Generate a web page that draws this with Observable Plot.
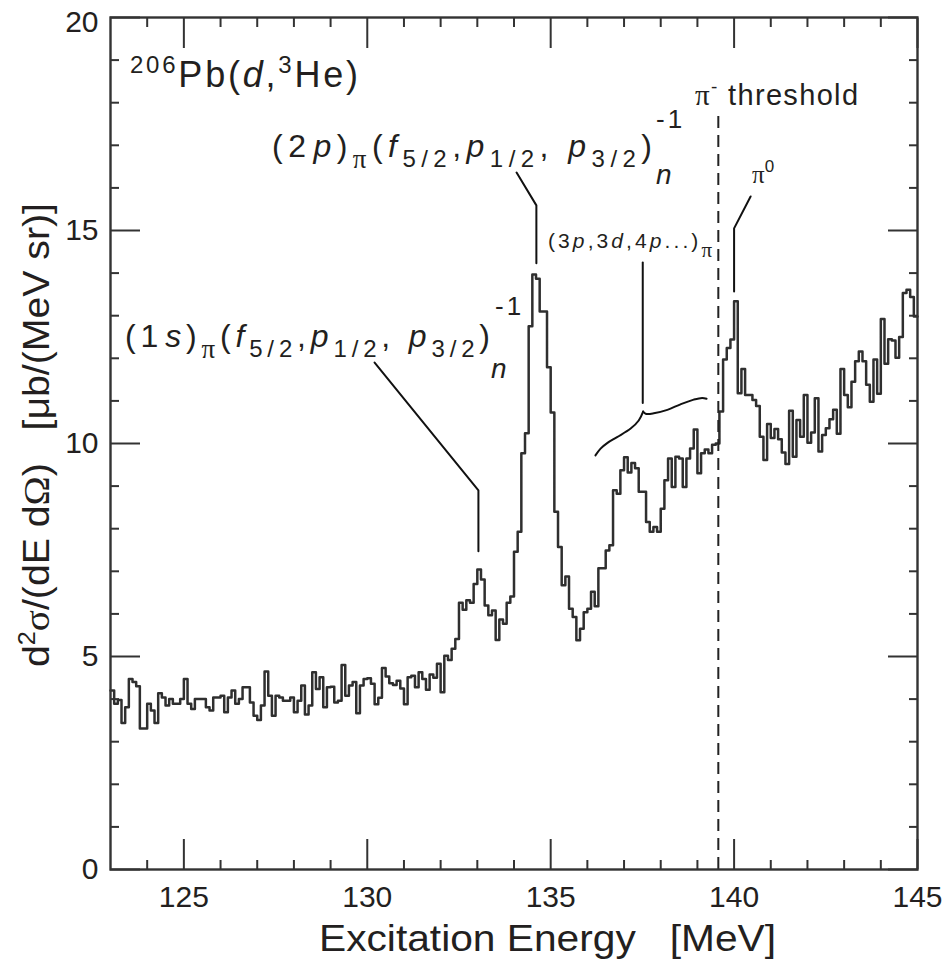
<!DOCTYPE html>
<html>
<head>
<meta charset="utf-8">
<script src="https://cdn.jsdelivr.net/npm/d3@7"></script>
<script src="https://cdn.jsdelivr.net/npm/@observablehq/plot@0.6"></script>
<style>
  html, body { margin: 0; padding: 0; background: #fff; }
  #chart svg { display: block; }
</style>
</head>
<body>
<div id="chart"></div>
<script>
// ---------------- data ----------------
const binStart = 123.0;   // MeV, left edge of first bin
const binWidth = 0.1;     // MeV
const binEnd = 145.0;
// d2sigma/(dE dOmega) per bin [ub/(MeV sr)]
const counts = [
  4.20, 3.89, 3.98, 3.44, 3.81, 4.47, 4.40, 4.30, 3.31, 3.31,
  3.89, 3.73, 3.44, 4.14, 4.04, 3.85, 4.00, 3.89, 3.89, 4.00,
  4.47, 3.89, 3.77, 4.00, 4.00, 4.00, 3.81, 3.73, 4.04, 4.04,
  4.08, 3.69, 4.04, 4.20, 3.89, 4.00, 4.28, 4.28, 3.92, 3.61,
  3.51, 3.85, 4.65, 4.08, 3.61, 4.08, 4.04, 3.96, 3.96, 4.04,
  3.69, 3.96, 4.32, 3.64, 3.85, 4.63, 4.24, 4.51, 3.81, 4.28,
  4.29, 3.92, 3.96, 4.80, 4.08, 4.32, 4.40, 3.67, 4.32, 4.47,
  4.49, 4.36, 3.88, 4.03, 4.73, 4.53, 4.37, 4.33, 4.43, 4.25,
  3.88, 4.51, 4.55, 4.28, 4.63, 4.47, 4.22, 4.58, 4.50, 4.83,
  4.16, 5.02, 4.92, 5.18, 5.41, 6.26, 6.10, 6.32, 6.26, 6.70,
  7.04, 6.81, 6.20, 5.97, 6.08, 5.39, 5.87, 5.77, 6.26, 6.41,
  7.46, 7.93, 9.77, 10.24, 12.75, 13.97, 13.87, 13.10, 13.10, 11.79,
  10.73, 8.40, 7.57, 6.67, 6.88, 6.12, 5.93, 5.38, 5.65, 6.04,
  6.12, 6.52, 6.18, 7.07, 7.07, 7.49, 7.61, 8.90, 8.82, 9.37,
  9.68, 9.32, 9.54, 9.42, 8.87, 8.87, 8.16, 7.93, 8.04, 7.93,
  8.47, 9.14, 9.65, 8.98, 9.69, 9.65, 8.98, 9.65, 9.88, 10.33,
  9.30, 9.77, 9.86, 9.77, 9.97, 10.00, 10.75, 11.97, 12.24, 12.44,
  13.34, 11.18, 11.75, 11.14, 11.14, 11.02, 10.88, 10.16, 9.61, 10.46,
  10.13, 10.34, 10.10, 9.79, 9.52, 10.77, 9.69, 10.55, 10.16, 11.14,
  10.02, 10.26, 11.06, 9.81, 10.20, 10.36, 10.57, 10.79, 10.23, 11.75,
  11.14, 10.85, 11.45, 11.93, 12.16, 11.93, 11.38, 10.98, 11.97, 11.17,
  12.92, 11.87, 12.45, 12.42, 12.01, 12.50, 13.53, 13.61, 13.44, 12.98
];
const xMajorTicks = [125, 130, 135, 140, 145];
const xMinorTicks = [124, 126, 127, 128, 129, 131, 132, 133, 134, 136, 137, 138, 139, 141, 142, 143, 144];
const yMajorTicks = [0, 5, 10, 15, 20];
const yMinorTicks = [1, 2, 3, 4, 6, 7, 8, 9, 11, 12, 13, 14, 16, 17, 18, 19];
const yLabelTicks = [0, 5, 10, 15];
const yTopLabelTick = [20];
const xDomain = [123, 145];
const yDomain = [0, 20];
const piMinusThreshold = 139.57;  // MeV
const thresholdLineTop = 17.7;

// annotation leader lines (MeV, ub/(MeV sr))
const leader1s = [[130.20, 11.90], [133.03, 8.90], [133.03, 7.47]];
const leader2p = [[134.07, 16.36], [134.61, 15.59], [134.61, 14.23]];
const leaderPi0 = [[140.45, 15.80], [140.00, 15.05], [140.00, 13.57]];
const leader3p = [[137.51, 14.25], [137.51, 10.95]];
const braceLeft = [[136.22, 9.72], [136.36, 9.88], [136.54, 10.01], [136.81, 10.15], [137.18, 10.35], [137.40, 10.54], [137.52, 10.75]];
const braceRight = [[137.52, 10.75], [137.59, 10.70], [137.81, 10.71], [138.18, 10.79], [138.54, 10.92], [138.90, 11.03], [139.13, 11.07], [139.25, 11.05]];

// ---------------- build tables ----------------
const hist = counts.map((v, i) => ({x: binStart + i * binWidth, y: v}));
hist.push({x: binEnd, y: counts[counts.length - 1]});
const toRows = (arr, id) => arr.map(([x, y]) => ({x, y, id}));
const leaders = [
  ...toRows(leader1s, "1s"), ...toRows(leader2p, "2p"),
  ...toRows(leaderPi0, "pi0"), ...toRows(leader3p, "3p")
];
const brace = [...toRows(braceLeft, "L"), ...toRows(braceRight, "R")];

const ink = "#231f20";
const lineInk = "#2f2f2f";
const sans = "'Liberation Sans', Arial, Helvetica, sans-serif";
const serif = "'Liberation Serif', 'Times New Roman', serif";

const tickOpts = {tickFormat: () => "", label: null, stroke: "#333", strokeWidth: 2};

const chart = Plot.plot({
  width: 942,
  height: 959,
  marginLeft: 110,
  marginRight: 25,
  marginTop: 17,
  marginBottom: 90,
  style: {fontFamily: sans, color: ink, background: "#fff"},
  x: {domain: xDomain},
  y: {domain: yDomain},
  marks: [
    // inward ticks on all four sides
    Plot.axisX({...tickOpts, ticks: xMinorTicks, anchor: "bottom", tickSize: -9}),
    Plot.axisX({...tickOpts, ticks: xMajorTicks, anchor: "bottom", tickSize: -30}),
    Plot.axisX({...tickOpts, ticks: xMinorTicks, anchor: "top", tickSize: -9}),
    Plot.axisX({...tickOpts, ticks: xMajorTicks, anchor: "top", tickSize: -30}),
    Plot.axisY({...tickOpts, ticks: yMinorTicks, anchor: "left", tickSize: -9}),
    Plot.axisY({...tickOpts, ticks: yMajorTicks, anchor: "left", tickSize: -30}),
    Plot.axisY({...tickOpts, ticks: yMinorTicks, anchor: "right", tickSize: -9}),
    Plot.axisY({...tickOpts, ticks: yMajorTicks, anchor: "right", tickSize: -30}),
    // tick labels
    Plot.axisX({ticks: xMajorTicks, anchor: "bottom", tickSize: 0, tickPadding: 16, fontSize: 30, label: null, fill: ink}),
    Plot.axisY({ticks: yLabelTicks, anchor: "left", tickSize: 0, tickPadding: 12, fontSize: 30, label: null, fill: ink}),
    Plot.axisY({ticks: yTopLabelTick, anchor: "left", tickSize: 0, tickPadding: 12, fontSize: 30, label: null, fill: ink, dy: 5}),
    // histogram
    Plot.line(hist, {x: "x", y: "y", curve: "step-after", stroke: lineInk, strokeWidth: 2.5}),
    // pi- threshold
    Plot.ruleX([piMinusThreshold], {y1: 0, y2: thresholdLineTop, stroke: "#222", strokeWidth: 2, strokeDasharray: "12,7"}),
    // annotation leaders
    Plot.line(leaders, {x: "x", y: "y", z: "id", stroke: "#111", strokeWidth: 2}),
    Plot.line(brace, {x: "x", y: "y", z: "id", curve: "catmull-rom", stroke: "#111", strokeWidth: 2}),
    Plot.frame({stroke: "#333", strokeWidth: 2.4})
  ]
});

document.getElementById("chart").appendChild(chart);

// ---------------- rich text annotations ----------------
const sx = chart.scale("x"), sy = chart.scale("y");
const X = (v) => sx.apply(v), Y = (v) => sy.apply(v);
const g = d3.select(chart).append("g").attr("fill", ink).attr("font-family", sans);

function rich(pos, size, parts, opts = {}) {
  const x = X(pos[0]), y = Y(pos[1]);
  const t = g.append("text")
    .attr("x", x).attr("y", y)
    .attr("font-size", size)
    .attr("text-anchor", opts.anchor || "start")
    .style("white-space", "pre");
  if (opts.rotate) t.attr("transform", `rotate(${opts.rotate},${x},${y})`);
  if (opts.spacing) t.attr("letter-spacing", opts.spacing);
  let cur = 0;
  for (const p of parts) {
    const shift = p.shift || 0;
    const ts = t.append("tspan").text(p.t);
    if (shift !== cur) ts.attr("dy", shift - cur);
    cur = shift;
    if (p.size) ts.attr("font-size", p.size);
    if (p.italic) ts.attr("font-style", "italic");
    if (p.serif) ts.attr("font-family", serif);
    if (p.dx) ts.attr("dx", p.dx);
  }
  if (opts.length) t.attr("textLength", opts.length).attr("lengthAdjust", opts.adjust || "spacing");
  return t;
}

// 206Pb(d,3He)
rich([123.545, 18.36], 36, [
  {t: "206", size: 24, shift: -14}, {t: "Pb("}, {t: "d", italic: true}, {t: ","},
  {t: "3", size: 24, shift: -14}, {t: "He)"}
], {length: 228});

// (2p)pi(f5/2,p1/2, p3/2)n^-1
const orbitalParts = (n, l) => [
  {t: "(" + n}, {t: l, italic: true, dx: 2}, {t: ")"},
  {t: "π", serif: true, size: 27, shift: 11}, {t: "("}, {t: "f", italic: true},
  {t: "5/2", size: 24, shift: 10}, {t: ","}, {t: "p", italic: true},
  {t: "1/2", size: 24, shift: 10}, {t: ", "}, {t: "p", italic: true},
  {t: "3/2", size: 24, shift: 10}, {t: ")"}
];
rich([127.417, 16.714], 32, orbitalParts("2", "p"), {length: 380});
rich([137.886, 17.40], 26, [{t: "-1"}], {spacing: 3});
rich([137.886, 16.08], 28, [{t: "n", italic: true}]);

rich([123.409, 12.254], 32, orbitalParts("1", "s"), {length: 365});
rich([133.496, 13.00], 26, [{t: "-1"}], {spacing: 3});
rich([133.387, 11.53], 28, [{t: "n", italic: true}]);

// (3p,3d,4p...)pi
rich([134.941, 14.577], 21, [
  {t: "(3"}, {t: "p", italic: true}, {t: ",3"}, {t: "d", italic: true}, {t: ",4"},
  {t: "p", italic: true}, {t: "...)"}, {t: "π", serif: true, size: 21, shift: 9}
], {length: 164});

// pi0
rich([140.503, 16.10], 25, [{t: "π", serif: true}, {t: "0", size: 17, shift: -11}]);

// pi- threshold
rich([138.949, 17.934], 29, [
  {t: "π", serif: true}, {t: "-", size: 19, shift: -12}, {t: " threshold"}
], {length: 163});

// axis titles
rich([128.698, -1.92], 37, [{t: "Excitation Energy   [MeV]"}], {length: 457, adjust: "spacingAndGlyphs"});
rich([121.33, 10.188], 36, [
  {t: "d"}, {t: "2", size: 23, shift: -14}, {t: "σ", serif: true}, {t: "/(dE d"},
  {t: "Ω", serif: true}, {t: ")   [μb/(MeV sr)]"}
], {anchor: "middle", rotate: -90, length: 464, adjust: "spacingAndGlyphs"});
</script>
</body>
</html>
